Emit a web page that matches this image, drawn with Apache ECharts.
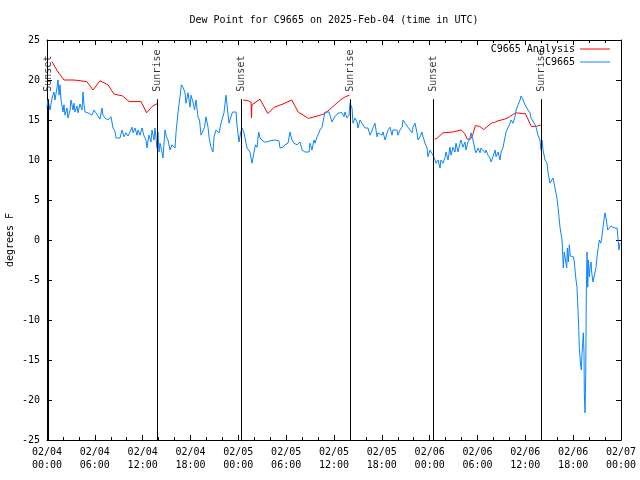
<!DOCTYPE html>
<html><head><meta charset="utf-8">
<script src="https://cdn.jsdelivr.net/npm/echarts@6/dist/echarts.min.js"></script>
<style>html,body{margin:0;padding:0;background:#fff}#c{width:640px;height:480px}</style>
</head><body><div id="c"></div>
<script>
// hours since 2025-02-04 00:00 UTC
const blueHours = [
0.00,0.13,0.38,0.63,0.88,1.00,1.25,1.38,1.51,1.63,1.76,1.88,2.01,2.13,2.26,2.51,2.63,2.89,3.01,3.26,3.39,3.51,3.76,3.89,4.14,4.39,4.52,4.64,4.77,5.02,5.14,5.39,5.64,5.90,6.15,6.40,6.65,6.90,7.02,7.28,7.40,7.65,7.90,8.03,8.28,8.53,8.66,8.91,9.16,9.41,9.66,9.91,10.16,10.41,10.66,10.79,11.04,11.29,11.42,11.67,11.92,12.17,12.42,12.54,12.79,13.05,13.17,13.42,13.55,13.80,13.92,14.05,
14.17,14.37,14.55,14.80,14.99,15.18,15.43,15.68,16.06,16.18,16.43,16.68,16.86,17.06,17.31,17.44,17.69,17.94,18.06,18.31,18.51,18.69,18.94,19.13,19.32,19.57,19.76,19.94,20.20,20.32,20.57,20.82,20.95,21.20,21.58,21.83,22.04,22.20,22.45,22.65,22.83,23.08,23.27,23.71,23.83,24.08,24.31,
24.46,24.71,24.84,25.09,25.34,25.46,25.72,25.97,26.15,26.34,26.56,26.72,26.97,27.22,27.60,27.97,28.60,29.10,29.23,29.60,29.85,30.23,30.48,30.73,30.98,31.36,31.74,31.99,32.36,32.87,32.99,33.24,33.49,33.62,33.87,34.12,34.24,34.50,34.75,34.87,35.12,35.37,35.50,35.75,36.00,36.25,36.63,36.75,37.00,37.25,37.38,37.63,37.88,38.01,38.26,
38.38,38.64,38.89,39.01,39.26,39.51,39.64,39.89,40.27,40.52,40.77,40.89,41.14,41.40,41.52,41.77,42.02,42.15,42.40,42.65,42.77,43.03,43.28,43.40,43.65,43.90,44.03,44.28,44.53,44.66,44.91,45.16,45.28,45.53,45.79,45.91,46.16,46.41,46.54,46.79,47.04,47.17,47.42,47.67,47.79,48.04,48.29,48.42,48.67,48.80,49.05,49.30,
49.42,49.67,49.92,50.05,50.30,50.55,50.68,50.93,51.18,51.30,51.56,51.81,51.93,52.18,52.43,52.56,52.81,53.06,53.19,53.44,53.69,53.81,54.07,54.32,54.44,54.69,54.94,55.07,55.32,55.57,55.70,55.95,56.21,56.33,56.58,56.83,56.96,57.21,57.46,57.59,57.84,58.09,58.21,58.46,58.71,58.84,59.09,59.34,59.46,59.72,59.97,60.09,60.34,60.59,60.71,60.96,61.22,61.34,61.59,61.84,61.97,62.09,62.22,
62.47,62.72,62.85,63.10,63.35,63.47,63.72,63.97,64.10,64.35,64.60,64.72,64.76,64.89,65.07,65.19,65.27,65.39,65.52,65.64,65.82,66.02,66.15,66.23,66.36,66.48,66.57,66.70,66.77,66.90,67.02,67.11,67.20,67.27,67.36,67.40,67.49,67.58,67.65,67.74,67.83,67.90,68.03,68.12,68.24,68.33,68.49,68.74,68.87,68.99,69.16,69.28,69.46,69.58,69.71,69.83,70.00,70.16,70.33,70.50,70.75,71.00,71.16,71.34,71.51,71.59,71.75,71.87
];
const blueValues = [
16.6,17.5,16.25,17.75,18.5,17.5,19.0,20.0,18.1,19.4,17.5,17.25,16.0,16.9,15.6,16.5,15.25,16.25,17.5,16.25,17.1,16.0,16.75,15.9,17.0,16.25,18.5,16.9,16.0,16.25,15.9,16.1,15.6,16.25,16.0,15.5,15.1,16.5,15.6,15.25,15.5,15.0,15.0,15.4,14.0,13.6,12.75,13.0,12.75,13.75,12.9,13.4,13.0,13.5,14.1,13.4,14.0,13.1,13.75,13.1,14.0,13.0,12.5,11.5,13.1,12.25,13.75,12.5,14.0,11.5,13.5,11.0,
12.1,11.25,10.25,13.75,12.9,12.5,11.25,11.9,11.5,13.4,15.9,17.9,19.4,19.1,18.4,17.1,18.4,16.6,18.1,17.25,16.25,17.5,15.4,15.0,13.1,12.9,14.1,15.4,14.1,12.9,11.6,11.0,12.9,13.75,13.4,14.6,14.75,15.9,18.1,16.25,14.6,15.4,16.0,16.0,14.4,12.25,13.5,
14.0,13.4,12.75,11.5,11.75,11.0,9.6,11.0,11.9,11.6,13.5,12.75,12.9,12.25,12.25,12.4,12.5,12.4,11.5,11.6,11.9,12.1,13.5,12.5,12.1,11.9,12.25,11.25,11.0,11.0,12.1,11.25,12.5,12.1,12.9,13.4,13.75,14.1,15.4,16.0,15.9,16.0,15.9,14.75,15.25,15.6,15.9,16.0,15.9,15.4,16.0,15.25,15.6,17.1,16.5,
14.6,15.25,14.75,14.0,15.0,14.6,14.75,14.0,14.0,13.1,12.9,14.0,14.6,12.9,13.4,13.5,13.1,13.5,12.5,12.25,13.75,14.1,13.1,13.75,13.5,13.75,13.1,13.75,14.1,15.0,14.6,14.6,14.1,13.75,13.4,14.1,14.6,13.4,12.5,12.9,13.5,12.9,12.1,11.5,10.4,11.25,11.5,10.6,10.0,9.6,10.0,9.0,
10.0,9.6,10.25,11.0,10.0,11.6,10.6,11.6,11.0,12.1,11.0,12.1,12.5,11.6,12.25,11.25,12.25,12.75,13.4,12.5,11.25,10.9,11.5,10.9,11.5,11.25,10.9,11.25,10.6,10.25,9.75,10.4,11.25,10.4,11.0,10.0,11.0,11.6,12.9,13.5,13.75,14.6,15.0,14.6,15.4,16.25,16.9,17.5,18.0,17.5,16.9,17.1,16.25,15.9,15.25,15.0,14.4,14.1,13.1,12.5,11.25,12.5,11.25,
10.0,9.6,8.4,7.1,6.9,7.75,7.5,5.25,4.1,1.6,0.0,-2.5,-3.5,-1.5,-2.75,-3.5,-1.0,-2.75,-0.6,-2.0,-2.25,-2.1,-2.75,-3.75,-5.0,-5.9,-7.9,-11.0,-13.4,-15.25,-16.25,-14.1,-12.9,-11.6,-14.1,-19.1,-21.6,-16.6,-6.5,-1.5,-5.9,-2.5,-4.6,-3.4,-2.75,-4.1,-5.25,-5.25,-3.4,-2.1,-0.9,0.0,-0.4,0.25,1.25,2.25,3.4,2.5,1.25,1.25,1.75,1.75,1.5,1.25,1.5,0.6,-1.25,-0.4
];
// analysis (night-time only); null marks a gap
const redHours = [
0.63,1.25,2.13,3.39,3.51,5.00,5.77,6.65,7.65,8.40,9.50,10.30,11.80,12.50,13.20,13.90, 19.0,
24.62,25.25,25.60,25.65,25.70,26.72,27.70,28.50,29.60,30.70,31.50,32.80,33.90,34.60,35.10,36.00,36.80,37.40,37.95, 43.0,
48.63,48.90,49.67,50.93,51.30,51.97,52.40,52.72,53.10,53.40,53.73,54.28,54.78,55.73,56.15,56.57,57.41,58.04,58.45,58.87,59.70,60.00,60.75,61.38,62.00
];
const redValues = [
22.3,21.2,20.0,20.0,19.8,19.8,18.75,19.9,19.4,18.25,18.0,17.3,17.3,15.9,16.7,17.1, null,
17.5,17.4,17.2,15.25,16.9,17.6,15.8,16.6,17.0,17.5,16.0,15.2,15.5,15.7,16.0,16.8,17.5,17.9,18.1, null,
12.6,12.7,13.4,13.5,13.6,13.75,13.3,12.6,12.6,13.1,14.3,14.2,13.8,14.6,14.7,14.9,15.1,15.4,15.7,15.9,15.8,15.8,14.2,14.2,14.4
];
const sunHours = [0.17, 13.88, 24.40, 38.05, 48.45, 62.00];
const sunLabels = ['Sunset','Sunrise','Sunset','Sunrise','Sunset','Sunrise'];
const sunLineTop = 17.6;
const xTickLabels = ['02/04\n00:00','02/04\n06:00','02/04\n12:00','02/04\n18:00','02/05\n00:00','02/05\n06:00','02/05\n12:00','02/05\n18:00','02/06\n00:00','02/06\n06:00','02/06\n12:00','02/06\n18:00','02/07\n00:00'];

const FONT = "'DejaVu Sans Mono', 'Liberation Mono', monospace";
const blueData = blueHours.map((h, i) => [h, blueValues[i]]);
const redData = redHours.map((h, i) => [h, redValues[i] === null ? '-' : redValues[i]]);

const axisCommon = {
  axisLine: { show: true, onZero: false, lineStyle: { color: '#000', width: 1 } },
  axisTick: { show: true, inside: true, length: 5, lineStyle: { color: '#000' } },
  splitLine: { show: false }
};
const legendCommon = {
  right: 30, align: 'right', padding: 0, itemGap: 0, itemWidth: 30, itemHeight: 1, icon: 'rect',
  selectedMode: false, textStyle: { fontFamily: FONT, fontSize: 10, color: '#000' }
};
const chart = echarts.init(document.getElementById('c'), null, { renderer: 'canvas' });
chart.setOption({
  animation: false,
  backgroundColor: '#fff',
  title: {
    text: 'Dew Point for C9665 on 2025-Feb-04 (time in UTC)',
    left: 329, top: 10, textAlign: 'center',
    textStyle: { fontFamily: FONT, fontSize: 10, fontWeight: 'normal', color: '#000' }
  },
  legend: [
    Object.assign({}, legendCommon, { data: ['C9665 Analysis'], top: 44 }),
    Object.assign({}, legendCommon, { data: ['C9665'], top: 57 })
  ],
  grid: { left: 47, right: 19, top: 40, bottom: 40, containLabel: false, outerBoundsMode: 'none' },
  xAxis: [
    Object.assign({}, axisCommon, {
      type: 'value', min: 0, max: 72, interval: 6, position: 'bottom',
      minorTick: { show: true, splitNumber: 3, length: 3, lineStyle: { color: '#000' } },
      axisLabel: { color: '#000', fontFamily: FONT, fontSize: 10, lineHeight: 13, margin: 6,
        formatter: v => xTickLabels[Math.round(v / 6)] }
    }),
    Object.assign({}, axisCommon, {
      type: 'value', min: 0, max: 72, interval: 6, position: 'top',
      minorTick: { show: true, splitNumber: 3, length: 3, lineStyle: { color: '#000' } },
      axisLabel: { show: false }
    })
  ],
  yAxis: [
    Object.assign({}, axisCommon, {
      type: 'value', min: -25, max: 25, interval: 5, position: 'left',
      name: 'degrees F', nameLocation: 'middle', nameGap: 32, nameRotate: 90, nameMoveOverlap: false,
      nameTextStyle: { color: '#000', fontFamily: FONT, fontSize: 10 },
      axisLabel: { color: '#000', fontFamily: FONT, fontSize: 10, margin: 7 }
    }),
    Object.assign({}, axisCommon, {
      type: 'value', min: -25, max: 25, interval: 5, position: 'right',
      axisLabel: { show: false }
    })
  ],
  series: [
    {
      name: 'C9665 Analysis', type: 'line', data: redData, showSymbol: false, symbol: 'none',
      connectNulls: false, color: '#ff0000', lineStyle: { color: '#ff0000', width: 1 },
      xAxisIndex: 0, yAxisIndex: 0, silent: true, z: 2
    },
    {
      name: 'C9665', type: 'line', data: blueData, showSymbol: false, symbol: 'none',
      color: '#0a84ff', lineStyle: { color: '#0a84ff', width: 1 },
      xAxisIndex: 0, yAxisIndex: 0, silent: true, z: 3
    },
    {
      name: 'sun', type: 'scatter', xAxisIndex: 0, yAxisIndex: 0, silent: true, z: 4,
      symbolSize: 1, itemStyle: { color: 'transparent' },
      data: sunHours.map((h, i) => ({ value: [h, sunLineTop], name: sunLabels[i] })),
      label: { show: true, position: 'top', distance: 7, rotate: 90, align: 'left', verticalAlign: 'middle',
        formatter: '{b}', color: '#000', fontFamily: FONT, fontSize: 10 },
      markLine: {
        silent: true, symbol: ['none', 'none'], animation: false,
        label: { show: false },
        lineStyle: { color: '#000', width: 1, type: 'solid' },
        emphasis: { disabled: true },
        data: sunHours.map(h => [{ coord: [h, sunLineTop] }, { coord: [h, -25] }])
      }
    }
  ]
});
</script>
</body></html>
